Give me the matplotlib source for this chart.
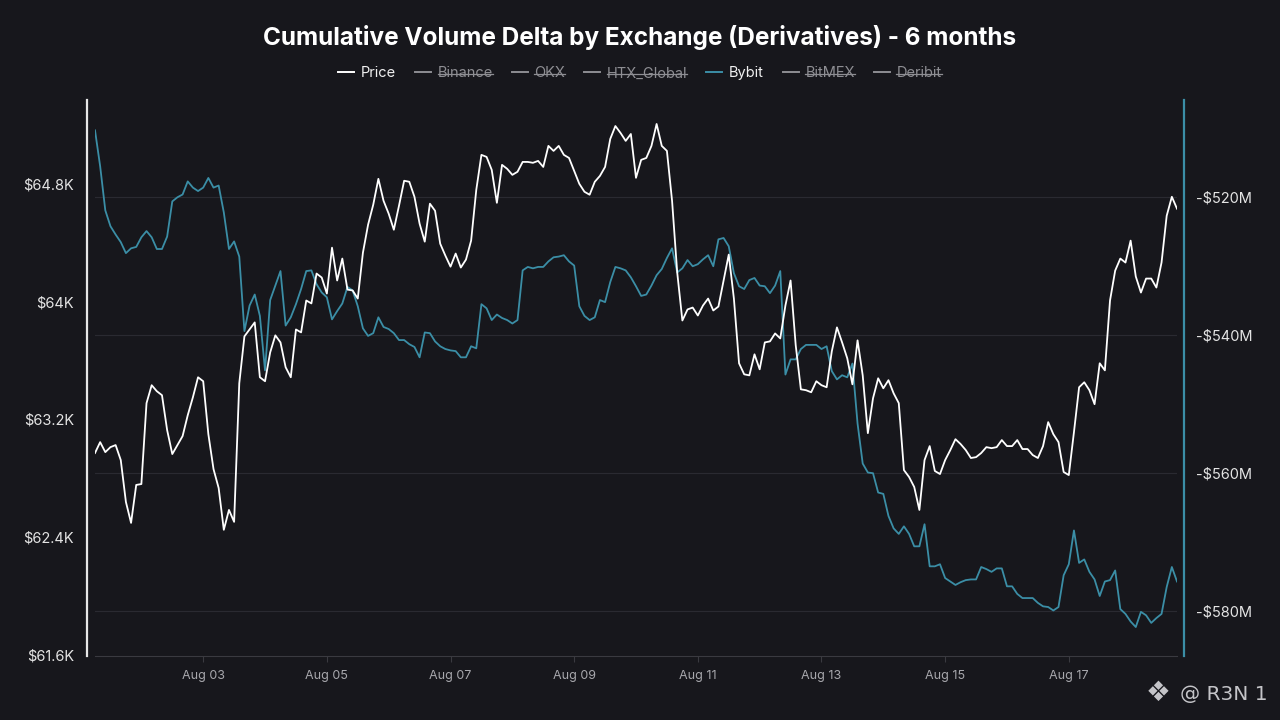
import matplotlib
matplotlib.use("Agg")
import matplotlib.pyplot as plt
import matplotlib.dates as mdates
from matplotlib.lines import Line2D
import pandas as pd

plt.rcParams['font.family'] = ['Inter', 'DejaVu Sans']

BG = '#17171c'
WHITE = '#ffffff'
BLUE = '#3b8ea6'
GREY = '#8e8e93'

# 2-hourly samples, Aug 01 06:00 -> Aug 18 18:00
times = pd.date_range('2024-08-01 06:00', periods=211, freq='2h')

price = [
    62970, 63044, 62976, 63010, 63024, 62922, 62637, 62495, 62753, 62759,
    63309, 63431, 63390, 63363, 63126, 62963, 63024, 63085, 63227, 63349,
    63485, 63458, 63098, 62861, 62732, 62448, 62583, 62502, 63444, 63763,
    63810, 63858, 63485, 63458, 63654, 63770, 63722, 63553, 63485, 63810,
    63790, 64007, 63987, 64190, 64163, 64054, 64366, 64143, 64292, 64081,
    64075, 64020, 64332, 64522, 64658, 64834, 64685, 64597, 64488, 64651,
    64821, 64814, 64712, 64529, 64407, 64665, 64617, 64393, 64312, 64237,
    64326, 64231, 64285, 64414, 64759, 64997, 64983, 64895, 64671, 64929,
    64902, 64861, 64882, 64949, 64949, 64943, 64956, 64915, 65058, 65024,
    65058, 64997, 64976, 64888, 64800, 64746, 64726, 64814, 64854, 64915,
    65105, 65193, 65146, 65092, 65139, 64841, 64963, 64976, 65058, 65207,
    65058, 65024, 64685, 64197, 63871, 63946, 63959, 63905, 63973, 64020,
    63939, 63966, 64143, 64319, 64020, 63580, 63505, 63498, 63641, 63539,
    63722, 63729, 63783, 63749, 63973, 64143, 63702, 63403, 63397, 63383,
    63458, 63431, 63417, 63661, 63824, 63722, 63614, 63437, 63736, 63498,
    63105, 63342, 63478, 63410, 63465, 63376, 63309, 62854, 62807, 62739,
    62583, 62922, 63017, 62848, 62827, 62922, 62990, 63064, 63031, 62990,
    62936, 62942, 62970, 63010, 63003, 63010, 63058, 63017, 63017, 63058,
    62997, 62997, 62956, 62936, 63017, 63180, 63098, 63044, 62841, 62820,
    63112, 63417, 63451, 63397, 63302, 63580, 63532, 64007, 64210, 64292,
    64265, 64414, 64170, 64061, 64156, 64156, 64095, 64265, 64583, 64712,
    64631,
]

# Bybit cumulative volume delta, millions USD
bybit = [
    -510.3, -515.5, -521.9, -524.2, -525.4, -526.5, -528.1, -527.4, -527.2, -525.8,
    -524.9, -525.8, -527.5, -527.5, -525.7, -520.6, -520.0, -519.6, -517.7, -518.6,
    -519.1, -518.6, -517.2, -518.6, -518.3, -522.2, -527.5, -526.4, -528.6, -539.4,
    -535.7, -534.1, -537.2, -545.1, -534.9, -532.8, -530.7, -538.6, -537.4, -535.5,
    -533.3, -530.7, -530.6, -532.6, -533.8, -534.5, -537.7, -536.5, -535.4, -533.0,
    -533.5, -535.8, -539.0, -540.1, -539.7, -537.4, -538.8, -539.1, -539.7, -540.7,
    -540.7, -541.3, -541.7, -543.2, -539.6, -539.7, -540.9, -541.6, -542.0, -542.2,
    -542.3, -543.2, -543.2, -541.6, -541.9, -535.5, -536.1, -537.8, -537.0, -537.5,
    -537.8, -538.3, -537.8, -530.6, -530.1, -530.3, -530.1, -530.1, -529.3, -528.7,
    -528.6, -528.4, -529.3, -529.9, -535.8, -537.2, -537.8, -537.4, -534.9, -535.2,
    -532.3, -530.1, -530.3, -530.6, -531.6, -532.9, -534.3, -534.1, -532.8, -531.3,
    -530.4, -528.8, -527.4, -530.9, -530.3, -529.1, -530.0, -529.7, -529.0, -528.4,
    -530.0, -526.1, -525.9, -527.1, -531.0, -532.9, -533.3, -532.0, -531.7, -532.8,
    -532.9, -533.9, -532.8, -530.7, -545.7, -543.5, -543.5, -542.0, -541.4, -541.4,
    -541.4, -542.0, -541.6, -545.2, -546.4, -545.8, -546.1, -544.1, -552.8, -558.6,
    -559.9, -560.0, -562.8, -563.0, -566.2, -568.0, -568.8, -567.7, -568.8, -570.6,
    -570.6, -567.4, -573.5, -573.5, -573.2, -575.2, -575.7, -576.2, -575.8, -575.5,
    -575.4, -575.4, -573.6, -573.9, -574.3, -573.8, -573.8, -576.4, -576.4, -577.5,
    -578.1, -578.1, -578.1, -578.8, -579.3, -579.4, -579.9, -579.4, -574.8, -573.2,
    -568.3, -573.0, -572.5, -574.3, -575.4, -577.8, -575.7, -575.5, -574.1, -579.7,
    -580.4, -581.5, -582.3, -580.1, -580.6, -581.7, -581.0, -580.4, -576.5, -573.6,
    -575.7,
]

series_names = ['Price', 'Binance', 'OKX', 'HTX_Global', 'Bybit', 'BitMEX', 'Deribit']
visible = ['Price', 'Bybit']

price_ticks = [61600, 62400, 63200, 64000, 64800]
cvd_ticks = [-520, -540, -560, -580]
date_ticks = pd.to_datetime(['2024-08-03', '2024-08-05', '2024-08-07', '2024-08-09',
                             '2024-08-11', '2024-08-13', '2024-08-15', '2024-08-17'])

fig = plt.figure(figsize=(12.8, 7.2), dpi=100, facecolor=BG)
ax2 = fig.add_axes([95 / 1280, 64 / 720, 1082 / 1280, 556 / 720])
ax = ax2.twinx()
ax2.set_facecolor(BG)
ax.patch.set_visible(False)

# price on the left axis, Bybit CVD on the right axis
ax2.yaxis.tick_right()
ax2.yaxis.set_label_position('right')
ax.yaxis.tick_left()
ax.yaxis.set_label_position('left')

ax2.plot(times, bybit, color=BLUE, lw=1.3, zorder=2)
ax.plot(times, price, color=WHITE, lw=1.3, zorder=3)

ax2.set_xlim(times[0], times[-1])
ax.set_ylim(61590, 65370)
ax2.set_ylim(-586.5, -505.9)

ax.set_yticks(price_ticks)
ax.set_yticklabels(['$' + f'{v / 1000:.1f}'.rstrip('0').rstrip('.') + 'K' for v in price_ticks])
ax2.set_yticks(cvd_ticks)
ax2.set_yticklabels([f'-${abs(v)}M' for v in cvd_ticks])

ax2.set_xticks(date_ticks)
ax2.xaxis.set_major_formatter(mdates.DateFormatter('%b %d'))

ax2.grid(axis='y', color='#2a2a31', lw=0.8)
ax2.grid(axis='x', visible=False)

for a in (ax, ax2):
    for s in a.spines.values():
        s.set_visible(False)

ax.spines['left'].set_visible(True)
ax.spines['left'].set_color('#e6e6e6')
ax.spines['left'].set_linewidth(1.6)
ax.spines['left'].set_position(('outward', 6))
ax2.spines['right'].set_visible(True)
ax2.spines['right'].set_color(BLUE)
ax2.spines['right'].set_linewidth(1.6)
ax2.spines['right'].set_position(('outward', 5))
ax2.spines['bottom'].set_visible(True)
ax2.spines['bottom'].set_color('#3a3a40')
ax2.spines['bottom'].set_linewidth(0.8)

ax.tick_params(axis='y', length=0, pad=9, labelsize=10.5, labelcolor='#e4e4e4')
ax2.tick_params(axis='y', length=0, pad=9, labelsize=10.5, labelcolor='#e4e4e4')
ax2.tick_params(axis='x', length=4, color='#3a3a40', pad=6, labelsize=9, labelcolor='#a8a8ad')

fig.text(0.5, 0.948, 'Cumulative Volume Delta by Exchange (Derivatives) - 6 months',
         ha='center', va='center', color='white', fontsize=17.5, fontweight='bold')

handles = []
for name in series_names:
    if name == 'Price':
        c = WHITE
    elif name == 'Bybit':
        c = BLUE
    else:
        c = GREY
    handles.append(Line2D([0], [0], color=c, lw=1.4))
leg = fig.legend(handles, series_names, loc='center', bbox_to_anchor=(0.5, 0.898),
                 ncol=len(series_names), frameon=False, fontsize=10.5,
                 handlelength=1.1, handletextpad=0.45, columnspacing=1.3)
for txt, name in zip(leg.get_texts(), series_names):
    txt.set_color('#f0f0f0' if name in visible else GREY)

fig.canvas.draw()
renderer = fig.canvas.get_renderer()
inv = fig.transFigure.inverted()
for txt, name in zip(leg.get_texts(), series_names):
    if name in visible:
        continue
    bb = txt.get_window_extent(renderer)
    (x0, y0), (x1, y1) = inv.transform([(bb.x0, bb.y0), (bb.x1, bb.y1)])
    ym = y0 + (y1 - y0) * 0.45
    fig.add_artist(Line2D([x0, x1], [ym, ym], transform=fig.transFigure, color=GREY, lw=0.9))

# watermark
fig.text(0.905, 0.037, '\u2756', ha='center', va='center', color='#c4c4c8',
         fontsize=20, family=['DejaVu Sans'])
fig.text(0.99, 0.036, '@ R3N 1', ha='right', va='center', color='#c4c4c8',
         fontsize=14.5, family=['DejaVu Sans'])

fig.savefig('out.png', dpi=100, facecolor=BG)
